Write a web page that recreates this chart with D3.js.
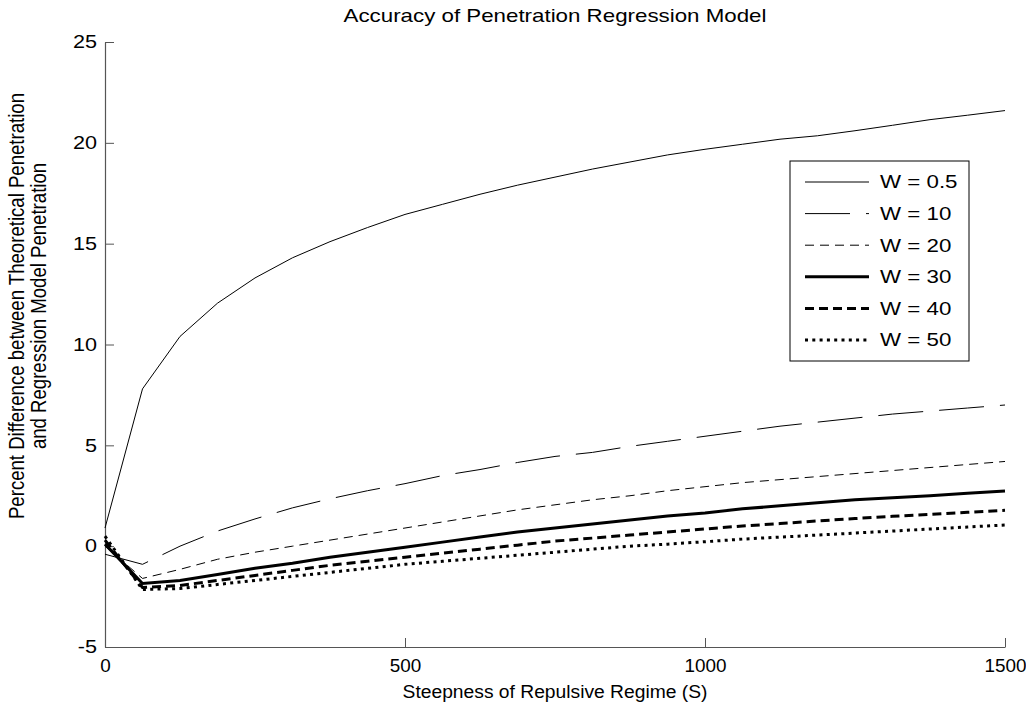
<!DOCTYPE html>
<html>
<head>
<meta charset="utf-8">
<script src="https://cdn.jsdelivr.net/npm/d3@7"></script>
<style>
  body { margin: 0; background: #fff; }
  text { font-family: "Liberation Sans", Arial, sans-serif; fill: #000; }
</style>
</head>
<body>
<div id="chart"></div>
<script>
// S values (x) shared by every curve
const steepness = d3.range(0, 1500.1, 62.5);

const w05 = [0.9, 7.8, 10.4, 12.05, 13.3, 14.3, 15.1, 15.8, 16.45, 16.95, 17.45, 17.9, 18.3,
  18.7, 19.05, 19.4, 19.68, 19.93, 20.18, 20.35, 20.6, 20.87, 21.15, 21.37, 21.6];
const w10 = [-0.4, -0.9, 0.0, 0.75, 1.35, 1.9, 2.35, 2.75, 3.1, 3.5, 3.8, 4.15, 4.45,
  4.65, 4.95, 5.2, 5.45, 5.7, 5.95, 6.15, 6.35, 6.55, 6.7, 6.85, 7.0];
const w20 = [0.0, -1.6, -1.15, -0.65, -0.3, 0.0, 0.3, 0.6, 0.9, 1.2, 1.5, 1.8, 2.05,
  2.3, 2.5, 2.75, 2.95, 3.15, 3.3, 3.45, 3.6, 3.75, 3.9, 4.05, 4.2];
const w30 = [0.1, -1.85, -1.7, -1.4, -1.1, -0.85, -0.55, -0.3, -0.05, 0.2, 0.45, 0.7, 0.9,
  1.1, 1.3, 1.5, 1.65, 1.85, 2.0, 2.15, 2.3, 2.4, 2.5, 2.62, 2.73];
const w40 = [0.3, -2.05, -1.95, -1.7, -1.45, -1.2, -0.95, -0.75, -0.55, -0.35, -0.15, 0.05, 0.25,
  0.4, 0.55, 0.7, 0.85, 1.0, 1.12, 1.25, 1.37, 1.48, 1.58, 1.68, 1.78];
const w50 = [0.5, -2.15, -2.1, -1.9, -1.7, -1.5, -1.3, -1.1, -0.9, -0.75, -0.6, -0.45, -0.3,
  -0.15, 0.0, 0.1, 0.22, 0.35, 0.45, 0.55, 0.65, 0.75, 0.85, 0.95, 1.05];

const seriesNames = ["W = 0.5", "W = 10", "W = 20", "W = 30", "W = 40", "W = 50"];
const seriesValues = [w05, w10, w20, w30, w40, w50];
const lineWidths = [1, 1, 1, 3, 3, 3];
const lineDashes = [null, "45,16", "9,6", null, "9,5", "3,4.3"];

const xTicks = [0, 500, 1000, 1500];
const yTicks = [-5, 0, 5, 10, 15, 20, 25];

const width = 1026, height = 709;
const margin = {left: 105, right: 21, top: 42, bottom: 62};
const fs = 18;
// the original figure was widened, so horizontal text looks stretched
const titleStretch = 1.24, labelStretch = 1.07, tickStretch = 1.05;

const svg = d3.select("#chart").append("svg")
  .attr("width", width)
  .attr("height", height);

svg.append("rect").attr("width", width).attr("height", height).attr("fill", "#fff");

const x = d3.scaleLinear().domain([0, 1500]).range([margin.left, width - margin.right]);
const y = d3.scaleLinear().domain([-5, 25]).range([height - margin.bottom, margin.top]);

// axes, ticks pointing inward like matlab
const xAxis = svg.append("g")
  .attr("transform", "translate(0," + (height - margin.bottom) + ")")
  .call(d3.axisBottom(x).tickValues(xTicks).tickFormat(d => String(d))
    .tickSizeInner(-9).tickSizeOuter(0).tickPadding(12));
const yAxis = svg.append("g")
  .attr("transform", "translate(" + margin.left + ",0)")
  .call(d3.axisLeft(y).tickValues(yTicks).tickFormat(d => String(d))
    .tickSizeInner(-9).tickSizeOuter(0));

[xAxis, yAxis].forEach(function(g) {
  g.select(".domain").attr("stroke", "#555").attr("stroke-width", 1.2);
  g.selectAll(".tick line").attr("stroke", "#555");
  g.selectAll(".tick text")
    .attr("font-size", fs)
    .attr("font-family", "Liberation Sans, Arial, sans-serif")
    .attr("fill", "#000");
});
xAxis.selectAll(".tick text").attr("transform", "scale(" + tickStretch + ",1)");
yAxis.selectAll(".tick text")
  .attr("x", -8 / 1.2)
  .attr("transform", "scale(1.2,1)");

// curves
const line = d3.line()
  .x((d, i) => x(steepness[i]))
  .y(d => y(d));

seriesValues.forEach(function(vals, k) {
  svg.append("path")
    .datum(vals)
    .attr("d", line)
    .attr("fill", "none")
    .attr("stroke", "#000")
    .attr("stroke-width", lineWidths[k])
    .attr("stroke-dasharray", lineDashes[k]);
});

// legend
const lg = svg.append("g").attr("transform", "translate(790,161)");
lg.append("rect")
  .attr("width", 179).attr("height", 200)
  .attr("fill", "#fff").attr("stroke", "#000").attr("stroke-width", 1);

seriesNames.forEach(function(name, k) {
  const ly = 21 + k * 31.6;
  lg.append("line")
    .attr("x1", 15).attr("x2", 79)
    .attr("y1", ly).attr("y2", ly)
    .attr("stroke", "#000")
    .attr("stroke-width", lineWidths[k])
    .attr("stroke-dasharray", lineDashes[k]);
  lg.append("text")
    .attr("transform", "translate(90," + ly + ") scale(" + titleStretch + ",1)")
    .attr("dy", "0.35em")
    .attr("font-size", fs)
    .text(name);
});

// title + labels
svg.append("text")
  .attr("transform", "translate(" + x(750) + ",22) scale(" + titleStretch + ",1)")
  .attr("text-anchor", "middle")
  .attr("font-size", fs)
  .text("Accuracy of Penetration Regression Model");

svg.append("text")
  .attr("transform", "translate(" + x(750) + ",698) scale(" + labelStretch + ",1)")
  .attr("text-anchor", "middle")
  .attr("font-size", fs)
  .text("Steepness of Repulsive Regime (S)");

const yl = svg.append("text")
  .attr("transform", "translate(24,306) scale(1.15,1) rotate(-90)")
  .attr("text-anchor", "middle")
  .attr("font-size", 18.6);
yl.append("tspan").attr("x", 0).attr("dy", 0).text("Percent Difference between Theoretical Penetration");
yl.append("tspan").attr("x", 0).attr("dy", 19).text("and Regression Model Penetration");
</script>
</body>
</html>
